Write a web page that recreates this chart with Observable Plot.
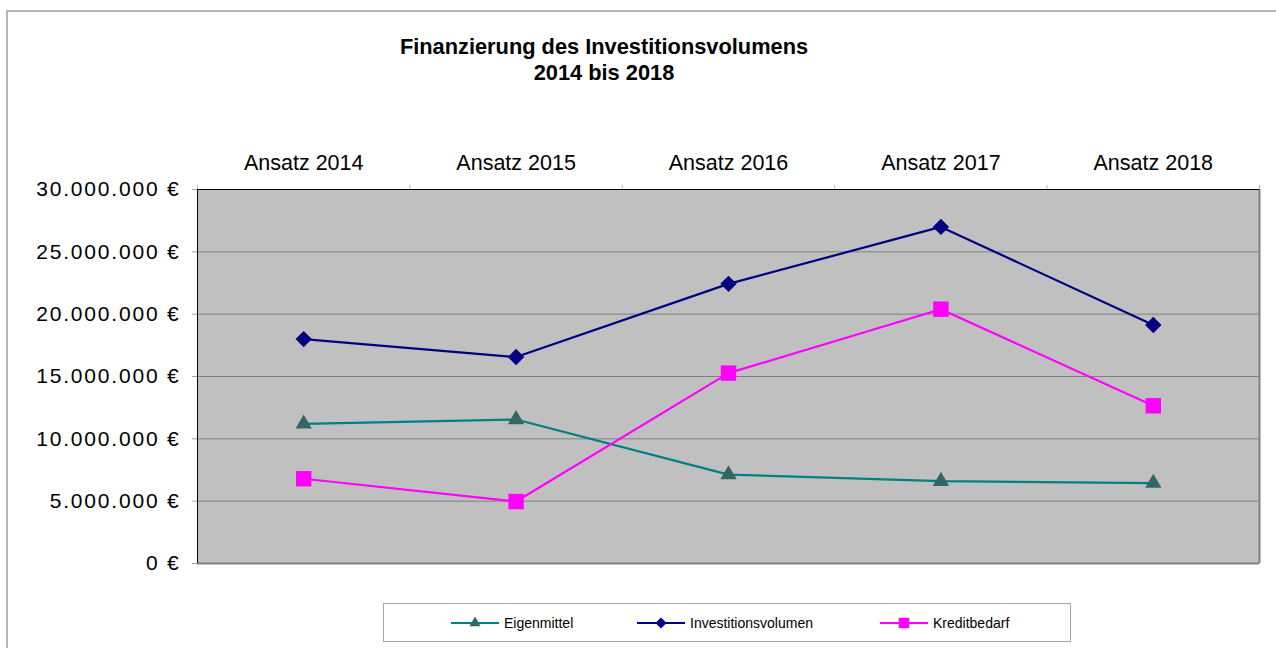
<!DOCTYPE html>
<html>
<head>
<meta charset="utf-8">
<script src="https://cdn.jsdelivr.net/npm/d3@7"></script>
<script src="https://cdn.jsdelivr.net/npm/@observablehq/plot@0.6"></script>
<style>
  html, body { margin: 0; padding: 0; background: #fff; }
  #wrap { position: relative; width: 1276px; height: 648px; overflow: hidden; font-family: Arial, "Liberation Sans", sans-serif; }
  #outer { position: absolute; left: 6px; top: 10px; width: 1400px; height: 800px; border-left: 2px solid #b4b4b4; border-top: 2px solid #b4b4b4; box-sizing: border-box; }
  #title { position: absolute; left: 304px; width: 600px; top: 34px; text-align: center; font-weight: bold; font-size: 21.8px; line-height: 26px; color: #000; }
  #chart { position: absolute; left: 0; top: 0; }
  #chart .yax text { letter-spacing: 1.8px; }
  #legend { position: absolute; left: 383px; top: 603px; width: 688px; height: 39px; border: 1px solid #a6a6a6; box-sizing: border-box; background: #fff; }
  .item { position: absolute; top: 0; height: 37px; display: flex; align-items: center; font-size: 14px; color: #000; }
  .item svg { margin-right: 5px; }
</style>
</head>
<body>
<div id="wrap">
  <div id="outer"></div>
  <div id="title">Finanzierung des Investitionsvolumens<br>2014 bis 2018</div>
  <div id="chart"></div>
  <div id="legend"></div>
</div>
<script>
// ---- data ----
const categories = ["Ansatz 2014", "Ansatz 2015", "Ansatz 2016", "Ansatz 2017", "Ansatz 2018"];
const eigenmittel = [11200000, 11550000, 7130000, 6600000, 6450000];
const investitionsvolumen = [18000000, 16560000, 22430000, 27000000, 19130000];
const kreditbedarf = [6800000, 4970000, 15270000, 20400000, 12650000];
const yTicks = [0, 5000000, 10000000, 15000000, 20000000, 25000000, 30000000];
const seriesNames = ["Eigenmittel", "Investitionsvolumen", "Kreditbedarf"];

// ---- styles ----
const styles = {
  "Eigenmittel": {line: "#008080", marker: "#336666", symbol: "triangle2", r: 7.8},
  "Investitionsvolumen": {line: "#000080", marker: "#000080", symbol: "diamond2", r: 7.4},
  "Kreditbedarf": {line: "#FF00FF", marker: "#FF00FF", symbol: "square2", r: 9.8}
};

const valuesBySeries = {
  "Eigenmittel": eigenmittel,
  "Investitionsvolumen": investitionsvolumen,
  "Kreditbedarf": kreditbedarf
};
const rows = seriesNames.flatMap(s => categories.map((c, i) => ({series: s, i, category: c, value: valuesBySeries[s][i]})));

const de = d3.formatLocale({decimal: ",", thousands: ".", grouping: [3], currency: ["", " €"]});
const fmt = v => de.format(",.0f")(v) + " €";
const boundaries = categories.map((_, i) => i - 0.5).concat([categories.length - 0.5]);
const xMin = -0.5, xMax = categories.length - 0.5;
const yMax = yTicks[yTicks.length - 1];

const seriesMarks = seriesNames.flatMap(s => {
  const d = rows.filter(r => r.series === s);
  const st = styles[s];
  return [
    Plot.line(d, {x: "i", y: "value", stroke: st.line, strokeWidth: 2.2}),
    Plot.dot(d, {x: "i", y: "value", symbol: st.symbol, r: st.r, fill: st.marker, stroke: "none"})
  ];
});

const chart = Plot.plot({
  width: 1276,
  height: 648,
  marginTop: 189,
  marginBottom: 85,
  marginLeft: 197,
  marginRight: 17,
  x: {type: "linear", domain: [xMin, xMax]},
  y: {domain: [0, yMax]},
  style: {fontFamily: "Arial, 'Liberation Sans', sans-serif", fontSize: "21px", color: "#000", background: "transparent", overflow: "visible"},
  marks: [
    Plot.frame({fill: "#c0c0c0", stroke: "none"}),
    Plot.gridY(yTicks.filter(t => t > 0 && t < yMax), {stroke: "#808080", strokeOpacity: 1, strokeWidth: 1}),
    Plot.axisY({ticks: yTicks, tickFormat: fmt, tickSize: 5, tickPadding: 12, stroke: "#a0a0a0", fill: "#000", label: null, fontSize: 21, className: "yax"}),
    Plot.axisX({anchor: "top", ticks: categories.map((_, i) => i), tickFormat: i => categories[i], tickSize: 0, tickPadding: 20, label: null, fontSize: 21.5, fill: "#000"}),
    Plot.axisX({anchor: "top", ticks: boundaries, tickFormat: () => "", tickSize: 5, stroke: "#b8b8b8", label: null}),
    Plot.ruleY([0], {stroke: "#808080", strokeWidth: 2}),
    Plot.ruleX([xMax], {stroke: "#808080", strokeWidth: 2}),
    Plot.ruleY([yMax], {stroke: "#000", strokeWidth: 1}),
    Plot.ruleX([xMin], {stroke: "#000", strokeWidth: 1}),
    ...seriesMarks
  ]
});
document.getElementById("chart").appendChild(chart);

// ---- legend ----
const legendLeft = {"Eigenmittel": 451, "Investitionsvolumen": 637, "Kreditbedarf": 880};
const legend = document.getElementById("legend");
seriesNames.forEach(s => {
  const st = styles[s];
  const item = document.createElement("div");
  item.className = "item";
  item.style.left = (legendLeft[s] - 383 - 1) + "px";
  const svgNS = "http://www.w3.org/2000/svg";
  const svg = document.createElementNS(svgNS, "svg");
  svg.setAttribute("width", 48);
  svg.setAttribute("height", 16);
  const line = document.createElementNS(svgNS, "line");
  line.setAttribute("x1", 0); line.setAttribute("x2", 48);
  line.setAttribute("y1", 8); line.setAttribute("y2", 8);
  line.setAttribute("stroke", st.line); line.setAttribute("stroke-width", 2);
  svg.appendChild(line);
  const sym = {"triangle2": d3.symbolTriangle2, "diamond2": d3.symbolDiamond2, "square2": d3.symbolSquare2}[st.symbol];
  const rr = st.r * 0.68;
  const p = document.createElementNS(svgNS, "path");
  p.setAttribute("d", d3.symbol(sym, Math.PI * rr * rr)());
  p.setAttribute("transform", "translate(24,8)");
  p.setAttribute("fill", st.marker);
  svg.appendChild(p);
  item.appendChild(svg);
  const t = document.createElement("span");
  t.textContent = s;
  item.appendChild(t);
  legend.appendChild(item);
});
</script>
</body>
</html>
